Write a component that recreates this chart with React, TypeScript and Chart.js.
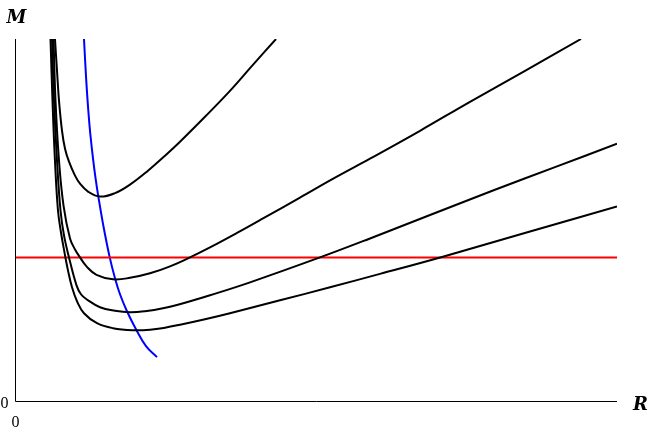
import React, { useEffect, useRef } from "react";
import { Chart, registerables } from "chart.js";

Chart.register(...registerables);

// Curve 1 (highest minimum)
const R1 = [0.664, 0.698, 0.731, 0.781, 0.831, 0.897, 0.997, 1.08, 1.213, 1.412, 1.661, 1.91, 2.209, 2.492, 2.741, 3.156, 3.571, 3.937, 4.336];
const M1 = [6.0, 5.471, 4.975, 4.479, 4.182, 3.967, 3.736, 3.603, 3.471, 3.388, 3.446, 3.587, 3.818, 4.066, 4.298, 4.711, 5.14, 5.554, 6.0];
// Curve 2
const R2 = [0.64, 0.673, 0.731, 0.806, 0.914, 0.997, 1.08, 1.188, 1.354, 1.628, 1.91, 2.243, 2.575, 2.907, 3.239, 3.688, 4.12, 4.734, 5.316, 5.897, 6.728, 7.558, 8.472, 9.402];
const M2 = [6.0, 4.975, 3.983, 3.24, 2.694, 2.512, 2.38, 2.231, 2.091, 2.017, 2.041, 2.116, 2.231, 2.38, 2.545, 2.785, 3.025, 3.372, 3.702, 4.017, 4.479, 4.959, 5.471, 6.0];
// Curve 3
const R3 = [0.615, 0.648, 0.698, 0.756, 0.814, 0.897, 1.022, 1.096, 1.188, 1.412, 1.661, 1.91, 2.159, 2.458, 2.824, 3.239, 3.904, 5.066, 5.897, 6.894, 7.94, 8.97, 10.0];
const M3 = [6.0, 4.975, 3.983, 3.157, 2.744, 2.38, 1.917, 1.769, 1.686, 1.554, 1.496, 1.471, 1.488, 1.537, 1.628, 1.752, 1.967, 2.38, 2.694, 3.083, 3.488, 3.876, 4.264];
// Curve 4 (lowest minimum)
const R4 = [0.59, 0.623, 0.664, 0.714, 0.764, 0.822, 0.88, 0.947, 1.03, 1.146, 1.362, 1.628, 1.96, 2.243, 2.492, 2.741, 3.156, 3.571, 4.402, 5.233, 6.063, 7.093, 8.555, 10.0];
const M4 = [6.0, 4.975, 3.983, 3.157, 2.793, 2.463, 2.165, 1.884, 1.653, 1.455, 1.289, 1.207, 1.174, 1.182, 1.215, 1.264, 1.355, 1.455, 1.669, 1.884, 2.107, 2.388, 2.81, 3.223];
// Blue curve
const RB = [1.146, 1.184, 1.218, 1.249, 1.296, 1.339, 1.387, 1.47, 1.57, 1.661, 1.744, 1.86, 2.01, 2.176, 2.359];
const MB = [6.0, 5.306, 4.81, 4.446, 4.017, 3.686, 3.372, 2.893, 2.397, 2.033, 1.769, 1.488, 1.19, 0.909, 0.727];
// Red horizontal line
const RR = [0, 10];
const MR = [2.38, 2.38];

const X_MIN = 0, X_MAX = 10, Y_MIN = 0, Y_MAX = 6;
const X_LABEL = "R";
const Y_LABEL = "M";
const X_TICK = "0";
const Y_TICK = "0";

const pts = (r: number[], m: number[]) => r.map((x, i) => ({ x, y: m[i] }));

export default function App() {
  const ref = useRef<HTMLCanvasElement | null>(null);
  useEffect(() => {
    if (!ref.current) return;
    const axesPlugin = {
      id: "axesPlugin",
      afterDatasetsDraw(chart: any) {
        const ctx = chart.ctx;
        const xs = chart.scales.x;
        const ys = chart.scales.y;
        const x0 = Math.round(xs.getPixelForValue(X_MIN)) + 0.5;
        const y0 = Math.round(ys.getPixelForValue(Y_MIN)) + 0.5;
        const x1 = xs.getPixelForValue(X_MAX);
        const y1 = ys.getPixelForValue(Y_MAX);
        ctx.save();
        ctx.strokeStyle = "#000";
        ctx.lineWidth = 1;
        ctx.beginPath();
        ctx.moveTo(x0, y1);
        ctx.lineTo(x0, y0);
        ctx.lineTo(x1, y0);
        ctx.stroke();
        ctx.fillStyle = "#000";
        ctx.font = "bold italic 18px 'DejaVu Serif'";
        ctx.textAlign = "left";
        ctx.textBaseline = "alphabetic";
        ctx.fillText(Y_LABEL, x0 - 9, y1 - 16);
        ctx.fillText(X_LABEL, x1 + 16, y0 + 8);
        ctx.font = "16px 'Liberation Serif'";
        ctx.textAlign = "center";
        ctx.textBaseline = "middle";
        ctx.fillText(Y_TICK, x0 - 11, y0 + 2);
        ctx.fillText(X_TICK, x0, y0 + 21);
        ctx.restore();
      },
    };
    const black = { borderColor: "#000", borderWidth: 2, pointRadius: 0, tension: 0.4, fill: false };
    const chart = new Chart(ref.current, {
      type: "line",
      data: {
        datasets: [
          { ...black, data: pts(R1, M1) },
          { ...black, data: pts(R2, M2) },
          { ...black, data: pts(R3, M3) },
          { ...black, data: pts(R4, M4) },
          { borderColor: "#ff0000", borderWidth: 2, pointRadius: 0, data: pts(RR, MR), fill: false },
          { borderColor: "#0000ff", borderWidth: 2, pointRadius: 0, tension: 0.4, data: pts(RB, MB), fill: false },
        ],
      },
      options: {
        responsive: false,
        animation: false,
        layout: { padding: { left: 15, top: 39, right: 33, bottom: 34 } },
        plugins: { legend: { display: false }, tooltip: { enabled: false } },
        scales: {
          x: { type: "linear", min: X_MIN, max: X_MAX, display: false },
          y: { type: "linear", min: Y_MIN, max: Y_MAX, display: false },
        },
      },
      plugins: [axesPlugin],
    });
    return () => chart.destroy();
  }, []);
  return (
    <div style={{ position: "absolute", left: 0, top: 0, width: 650, height: 435, background: "#fff" }}>
      <canvas ref={ref} width={650} height={435} />
    </div>
  );
}
